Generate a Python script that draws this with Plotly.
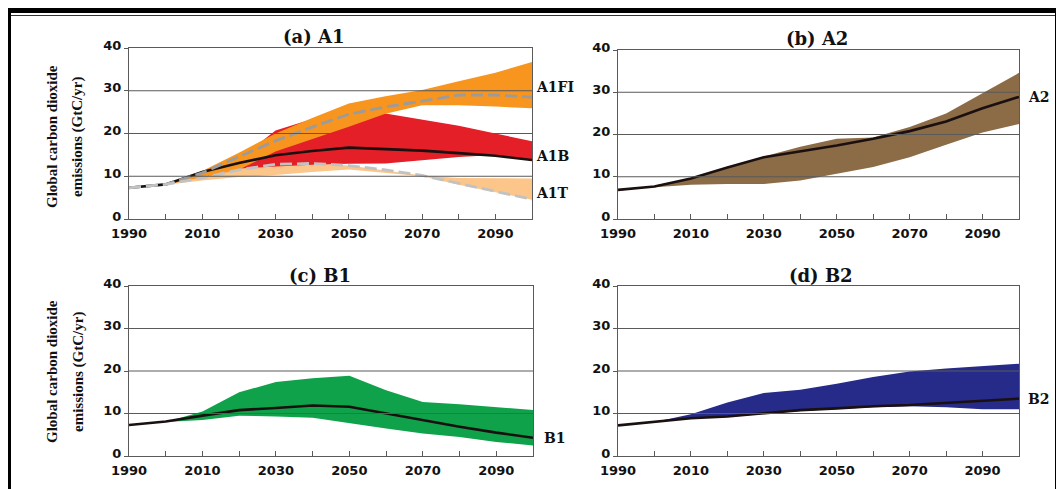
import plotly.graph_objects as go

# ---------------- data ----------------
years = [1990, 2000, 2010, 2020, 2030, 2040, 2050, 2060, 2070, 2080, 2090, 2100]
band_years = [2000, 2010, 2020, 2030, 2040, 2050, 2060, 2070, 2080, 2090, 2100]
x_tick_vals = [1990, 2000, 2010, 2020, 2030, 2040, 2050, 2060, 2070, 2080, 2090, 2100]
x_tick_text = ["1990", "", "2010", "", "2030", "", "2050", "", "2070", "", "2090", ""]
y_tick_vals = [0, 10, 20, 30, 40]

# (a) A1
a1fi_hi = [8.0, 11.2, 15.5, 20.0, 23.6, 27.0, 28.7, 30.2, 32.2, 34.2, 36.7]
a1fi_lo = [8.0, 9.8, 11.5, 15.8, 18.7, 21.6, 24.6, 26.6, 26.6, 26.3, 25.9]
a1b_hi = [8.0, 10.5, 14.0, 20.7, 23.4, 25.5, 24.7, 23.2, 21.8, 20.0, 18.2]
a1b_lo = [8.0, 10.0, 11.8, 12.3, 12.7, 12.9, 13.0, 13.8, 14.5, 15.0, 13.6]
a1t_hi = [8.0, 10.0, 12.0, 13.0, 13.0, 12.5, 11.3, 10.2, 9.6, 9.5, 9.5]
a1t_lo = [8.0, 9.0, 9.8, 10.3, 11.0, 11.6, 10.8, 10.0, 8.0, 6.3, 4.5]
a1fi_med = [7.3, 8.1, 10.8, 14.5, 18.3, 21.5, 24.5, 26.2, 27.6, 29.0, 29.0, 28.5]
a1b_med = [7.3, 8.1, 11.0, 13.1, 14.9, 15.9, 16.7, 16.4, 16.0, 15.4, 14.8, 13.8]
a1t_med = [7.3, 8.1, 9.6, 11.5, 12.8, 13.0, 12.5, 11.5, 10.2, 8.3, 6.4, 4.6]

# (b) A2
a2_hi = [7.9, 9.6, 12.2, 14.8, 17.1, 19.0, 19.3, 21.8, 25.0, 29.8, 34.6]
a2_lo = [7.5, 8.1, 8.3, 8.3, 9.1, 10.7, 12.3, 14.6, 17.6, 20.5, 22.5]
a2_med = [6.9, 7.7, 9.6, 12.2, 14.6, 16.0, 17.4, 19.0, 20.8, 23.1, 26.2, 28.9]

# (c) B1
b1_hi = [8.0, 10.5, 15.0, 17.4, 18.3, 18.9, 15.5, 12.7, 12.2, 11.5, 10.8]
b1_lo = [8.0, 8.5, 9.5, 9.3, 9.0, 7.8, 6.5, 5.3, 4.5, 3.3, 2.5]
b1_med = [7.3, 8.1, 9.5, 10.8, 11.3, 11.9, 11.6, 10.0, 8.4, 6.9, 5.5, 4.3]

# (d) B2
b2_hi = [8.0, 9.8, 12.6, 14.8, 15.6, 17.0, 18.6, 19.9, 20.6, 21.2, 21.7]
b2_lo = [8.0, 8.8, 9.2, 9.9, 10.6, 11.0, 11.5, 11.7, 11.5, 11.0, 11.0]
b2_med = [7.2, 8.0, 8.9, 9.3, 10.0, 10.8, 11.2, 11.7, 12.0, 12.5, 13.0, 13.5]

panel_titles = ["(a) A1", "(b) A2", "(c) B1", "(d) B2"]
y_title_lines = ["Global carbon dioxide", "emissions (GtC/yr)"]

# ---------------- layout helpers ----------------
W, H = 1064, 489
OFF = 8  # page body margin offset
FW, FH = W - OFF, H - OFF
def px(p):
    return (p - OFF) / FW
def py(p):
    return 1 - (p - OFF) / FH

# pixel boxes in window coords: (left, right, top, bottom)
boxes = {
    1: (129, 532, 48, 219),
    2: (618, 1019, 50, 219),
    3: (129, 533, 286, 456),
    4: (618, 1019, 286, 456),
}
title_pos = {1: (313, 37), 2: (817, 38), 3: (320, 275), 4: (821, 275)}

GRID = "#5a5a5a"
BLACK = "#1a1010"
tick_font = dict(family="DejaVu Sans", size=13, color="#111111", weight="bold")

fig = go.Figure()

def ax(n):
    return ("x" if n == 1 else f"x{n}"), ("y" if n == 1 else f"y{n}")

def band(n, hi, lo, color):
    xa, ya = ax(n)
    fig.add_trace(go.Scatter(
        x=band_years + band_years[::-1], y=hi + lo[::-1],
        fill="toself", fillcolor=color, mode="lines", line=dict(width=0),
        hoverinfo="skip", showlegend=False, xaxis=xa, yaxis=ya))

def line(n, vals, color, width=2.6, dash="solid"):
    xa, ya = ax(n)
    fig.add_trace(go.Scatter(
        x=years, y=vals, mode="lines", line=dict(color=color, width=width, dash=dash),
        showlegend=False, xaxis=xa, yaxis=ya))

# (a)
band(1, a1t_hi, a1t_lo, "#FCC68A")
band(1, a1b_hi, a1b_lo, "#E41F27")
band(1, a1fi_hi, a1fi_lo, "#F7951F")
line(1, a1b_med, BLACK)
line(1, a1fi_med, "#9b9b9b", 2.8, "12px,5px")
line(1, a1t_med, "#c2c2c2", 2.8, "12px,5px")
# (b)
band(2, a2_hi, a2_lo, "#8C6B47")
line(2, a2_med, BLACK)
# (c)
band(3, b1_hi, b1_lo, "#0FA24B")
line(3, b1_med, BLACK)
# (d)
band(4, b2_hi, b2_lo, "#262A89")
line(4, b2_med, BLACK)

layout = dict(
    width=FW, height=FH, margin=dict(l=0, r=0, t=0, b=0),
    paper_bgcolor="white", plot_bgcolor="white", showlegend=False,
)
shapes = []
annotations = []
for n, (l, r, t, b) in boxes.items():
    xk = "xaxis" if n == 1 else f"xaxis{n}"
    yk = "yaxis" if n == 1 else f"yaxis{n}"
    xa, ya = ax(n)
    layout[xk] = dict(
        domain=[px(l), px(r)], anchor=ya, range=[1990, 2100],
        tickmode="array", tickvals=x_tick_vals, ticktext=x_tick_text,
        ticks="inside", ticklen=5, tickcolor=GRID, tickwidth=1,
        ticklabelstandoff=2,
        showgrid=False, zeroline=False, showline=True, mirror=True,
        linecolor=GRID, linewidth=1, tickfont=tick_font, automargin=False,
        fixedrange=True)
    layout[yk] = dict(
        domain=[py(b), py(t)], anchor=xa, range=[0, 40],
        tickmode="array", tickvals=y_tick_vals,
        ticks="outside", ticklen=4, tickcolor=GRID, tickwidth=1,
        ticklabelshift=-3,
        showgrid=False, zeroline=False, showline=True, mirror=True,
        linecolor=GRID, linewidth=1, tickfont=tick_font, automargin=False,
        fixedrange=True)
    for g in y_tick_vals[1:-1]:
        shapes.append(dict(type="line", xref=f"{xa} domain", yref=ya,
                           x0=0, x1=1, y0=g, y1=g, layer="above",
                           line=dict(color=GRID, width=1)))
    tx, ty = title_pos[n]
    annotations.append(dict(text=panel_titles[n - 1], xref="paper", yref="paper",
                            x=px(tx), y=py(ty), xanchor="center", yanchor="middle",
                            showarrow=False,
                            font=dict(family="DejaVu Serif", size=18, color="#111111",
                                      weight="bold")))

# end labels
lab_font = dict(family="DejaVu Serif", size=14, color="#111111", weight="bold")
end_labels = [
    (1, "A1FI", a1fi_med[-1], -10, 2),
    (1, "A1B", a1b_med[-1], -4, 2),
    (1, "A1T", a1t_med[-1], -6, 2),
    (2, "A2", a2_med[-1], 0, 7),
    (3, "B1", b1_med[-1], 0, 9),
    (4, "B2", b2_med[-1], 0, 7),
]
for n, txt, yv, ys, xs in end_labels:
    xa, ya = ax(n)
    annotations.append(dict(text=txt, xref=xa, yref=ya, x=2100, y=yv,
                            xanchor="left", yanchor="middle", xshift=xs, yshift=-ys,
                            showarrow=False, font=lab_font))

# y-axis titles (left panels only)
ylab_font = dict(family="Liberation Serif", size=15, color="#111111", weight="bold")
for cy in (137, 372):
    for lx, txt in zip((52, 78), y_title_lines):
        annotations.append(dict(text=txt, xref="paper", yref="paper",
                                x=px(lx), y=py(cy), xanchor="center", yanchor="middle",
                                textangle=-90, showarrow=False, font=ylab_font))

# frame
shapes += [
    dict(type="line", xref="paper", yref="paper", x0=px(5), x1=px(1063), y0=py(10), y1=py(10),
         line=dict(color="black", width=6)),
    dict(type="line", xref="paper", yref="paper", x0=px(11), x1=px(1055), y0=py(15.5), y1=py(15.5),
         line=dict(color="#333333", width=1.2)),
    dict(type="line", xref="paper", yref="paper", x0=px(8.5), x1=px(8.5), y0=py(7), y1=py(495),
         line=dict(color="black", width=5)),
    dict(type="line", xref="paper", yref="paper", x0=px(1057.5), x1=px(1057.5), y0=py(7), y1=py(495),
         line=dict(color="black", width=5)),
]

layout["shapes"] = shapes
layout["annotations"] = annotations
fig.update_layout(**layout)
fig.write_html("out.html")
